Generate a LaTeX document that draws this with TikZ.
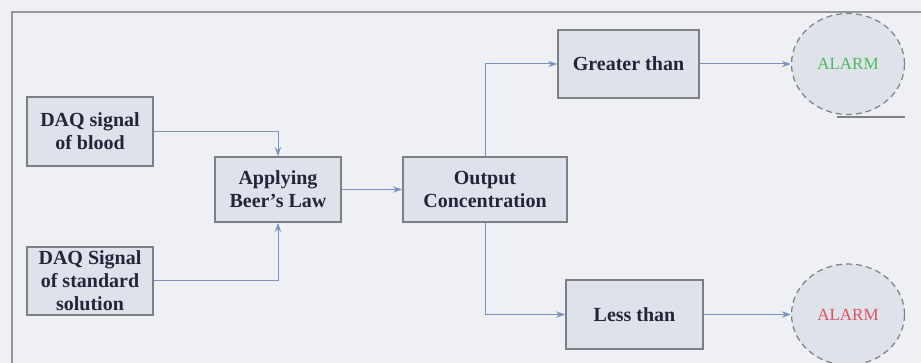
\documentclass[tikz,border=0pt]{standalone}
\usepackage{fontspec}
\setmainfont{Liberation Serif}
\usepackage{xcolor}
\usetikzlibrary{positioning, arrows.meta, calc, shapes.geometric}

\definecolor{paper}{HTML}{EEF0F4}
\definecolor{boxfill}{HTML}{DEE3EB}
\definecolor{boxline}{HTML}{7C7F86}
\definecolor{flowblue}{HTML}{7893C2}
\definecolor{inktext}{HTML}{23263A}
\definecolor{alarmgreen}{HTML}{4FB85A}
\definecolor{alarmred}{HTML}{E0525E}

\begin{document}
\begin{tikzpicture}[
    x=0.5pt, y=-0.5pt,
    box/.style={draw=boxline, fill=boxfill, line width=0.8pt, align=center, inner sep=1pt,
        font=\fontsize{10}{11.5}\selectfont\bfseries, text=inktext},
    alarmbox/.style={ellipse, draw=boxline, fill=boxfill, densely dashed, line width=0.6pt,
        minimum width=56.5pt, minimum height=50.5pt, inner sep=0pt, font=\fontsize{8.5}{9}\selectfont},
    arrow/.style={-{Stealth[length=1.6mm,width=1.1mm]}, line width=0.5pt, draw=flowblue},
]

% Page and frame
\fill[paper] (0,0) rectangle (921,363);
\useasboundingbox (0,0) rectangle (921,363);
\draw[boxline!80, line width=1pt] (921,12) -- (12,12) -- (12,363);

% Inputs
\node[box, minimum width=63pt, minimum height=34.5pt] (blood) at (90,131.5) {DAQ signal\\of blood};
\node[box, minimum width=63pt, minimum height=34pt] (standard) at (90,281) {DAQ Signal\\of standard\\solution};

% Processing
\node[box, minimum width=63pt, minimum height=32.5pt] (beer) at (278,189.5) {Applying\\Beer's Law};
\node[box, minimum width=82pt, minimum height=32.5pt] (output) at (485,189.5) {Output\\Concentration};

% Comparison
\node[box, minimum width=70.5pt, minimum height=34pt] (greater) at (628.5,64) {Greater than};
\node[box, minimum width=68.5pt, minimum height=34.5pt] (less) at (634.5,314.5) {Less than};

% Alarms
\node[alarmbox, text=alarmgreen] (alarmhi) at (848,64) {ALARM};
\node[alarmbox, text=alarmred] (alarmlo) at (848,314.5) {ALARM};
\coordinate (tail) at (905,117);
\draw[boxline, line width=0.8pt] (837,117) -- (tail);

% Connections
\draw[arrow] (blood.east) -| (beer.north);
\draw[arrow] (standard.east) -| (beer.south);
\draw[arrow] (beer.east) -- (output.west);
\draw[arrow] (output.north) |- (greater.west);
\draw[arrow] (output.south) |- (less.west);
\draw[arrow] (greater.east) -- (alarmhi.west);
\draw[arrow] (less.east) -- (alarmlo.west);

\end{tikzpicture}
\end{document}
